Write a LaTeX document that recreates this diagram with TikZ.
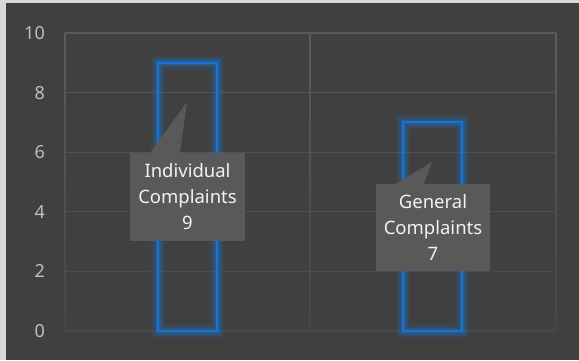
\documentclass[tikz,border=0pt]{standalone}
\usepackage{fontspec}
\setmainfont{Noto Sans}
\definecolor{bgc}{HTML}{404040}
\definecolor{framec}{HTML}{D9D9D9}
\definecolor{gridtop}{HTML}{5C5C5C}
\definecolor{gridbot}{HTML}{464646}
\definecolor{barblue}{HTML}{1574D4}
\definecolor{boxc}{HTML}{595959}
\definecolor{ticktxt}{HTML}{BFBFBF}
\definecolor{labtxt}{HTML}{F2F2F2}
\begin{document}
\begin{tikzpicture}[x=1pt,y=-1pt,
  ticklabel/.style={anchor=east,text=ticktxt,font=\fontsize{18}{21}\selectfont,inner sep=0pt},
  labelbox/.style={fill=boxc,text=labtxt,align=center,inner sep=0pt,
    font=\fontsize{18.5}{26}\selectfont},
  barglowA/.style={draw=barblue,draw opacity=0.12,line width=14pt},
  barglowB/.style={draw=barblue,draw opacity=0.2,line width=9pt},
  barglowC/.style={draw=barblue,draw opacity=0.3,line width=5pt},
  barline/.style={draw=barblue,line width=2pt}]
\useasboundingbox (0,0) rectangle (579,360);
\fill[bgc] (0,0) rectangle (579,360);
\fill[framec] (0,0) rectangle (579,3);
\fill[framec] (0,0) rectangle (6,360);
% gridlines
\foreach \v/\c in {0/10,2/25,4/40,6/55,8/70,10/90}{
  \pgfmathsetmacro{\yy}{331-29.8*\v}
  \draw[color=gridtop!\c!gridbot,line width=1.2pt] (65,\yy) -- (556,\yy);
}
\foreach \xx in {65,310,556}{
  \shade[top color=gridtop,bottom color=gridbot] (\xx-0.6,33) rectangle (\xx+0.6,331);
}
% tick labels
\node[ticklabel] (t10) at (45,33) {10};
\node[ticklabel] (t8) at (45,92.6) {8};
\node[ticklabel] (t6) at (45,152.2) {6};
\node[ticklabel] (t4) at (45,211.8) {4};
\node[ticklabel] (t2) at (45,271.4) {2};
\node[ticklabel] (t0) at (45,331) {0};
% bars
\foreach \s in {barglowA,barglowB,barglowC,barline}{
  \draw[\s] (158,331) rectangle (217,62.8);
  \draw[\s] (403,331) rectangle (462,122.4);
}
% callouts
\node[labelbox,minimum width=115pt,minimum height=88pt] (ind) at (187.5,197) {Individual\\Complaints\\9};
\coordinate (tip1) at (187,102);
\fill[boxc] ([xshift=20pt,yshift=-0.5pt]ind.north west) -- (tip1) -- ([xshift=50pt,yshift=-0.5pt]ind.north west) -- cycle;
\node[labelbox,minimum width=114pt,minimum height=87pt] (gen) at (433,227.5) {General\\Complaints\\7};
\coordinate (tip2) at (432,162);
\fill[boxc] ([xshift=19pt,yshift=-0.5pt]gen.north west) -- (tip2) -- ([xshift=48pt,yshift=-0.5pt]gen.north west) -- cycle;
\end{tikzpicture}
\end{document}
